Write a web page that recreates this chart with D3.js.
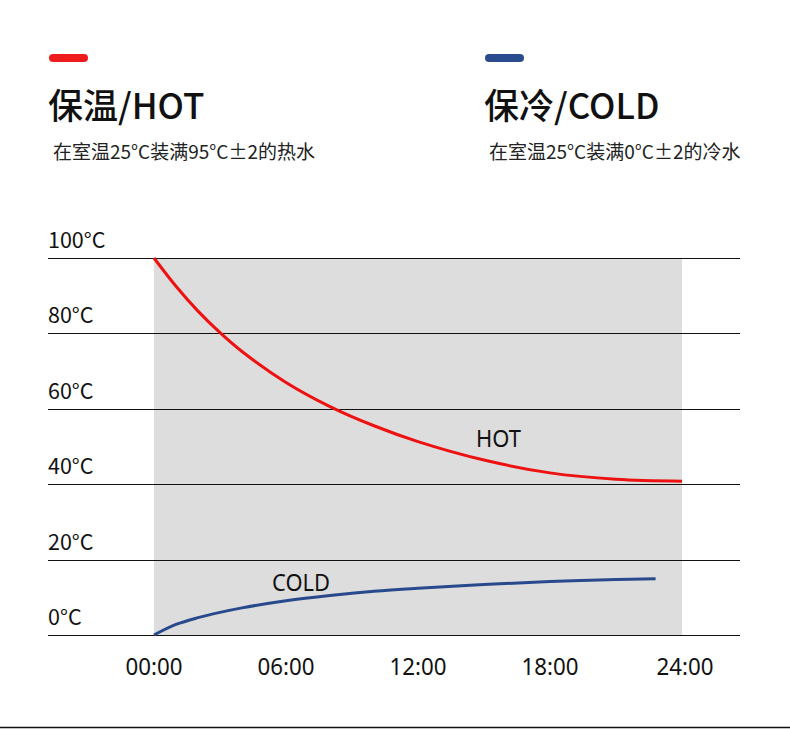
<!DOCTYPE html>
<html>
<head>
<meta charset="utf-8">
<script src="https://cdn.jsdelivr.net/npm/d3@7"></script>
<style>
  body { margin: 0; background: #fff; }
  svg { display: block; }
</style>
</head>
<body>
<script>
// time in hours, temperature in °C
var hotHours = [0, 1, 2, 3, 4, 6, 8, 10, 12, 15, 18, 21, 24];
var hotTemps = [100, 92.5, 85.9, 80.2, 75.2, 67, 60.6, 55.5, 51.3, 46.4, 43.0, 41.3, 40.8];

var coldHours = [0, 1, 2, 3, 4, 6, 8, 10, 12, 15, 18, 21, 22.8];
var coldTemps = [0, 2.8, 4.6, 6.0, 7.2, 9.1, 10.5, 11.6, 12.4, 13.4, 14.2, 14.7, 14.9];

var yTicks = [0, 20, 40, 60, 80, 100];
var xTicks = [0, 6, 12, 18, 24];
var xTickLabels = ["00:00", "06:00", "12:00", "18:00", "24:00"];

var width = 790, height = 729;
var cjk = "'Noto Sans CJK SC', 'Noto Sans', sans-serif";

var svg = d3.select("body").append("svg")
    .attr("width", width)
    .attr("height", height);

var x = d3.scaleLinear().domain([0, 24]).range([154, 682]);
var y = d3.scaleLinear().domain([0, 100]).range([635, 258]);

// header blocks
var headers = [
    {x: 49, color: "#ee1c1c", title: "保温/HOT", sub: "在室温25°C装满95°C±2的热水"},
    {x: 485, color: "#2a4c8e", title: "保冷/COLD", sub: "在室温25°C装满0°C±2的冷水"}
];
headers.forEach(function(h) {
    svg.append("rect")
        .attr("x", h.x).attr("y", 54)
        .attr("width", 39).attr("height", 8)
        .attr("rx", 4)
        .attr("fill", h.color);
    svg.append("text")
        .attr("x", h.x - 1).attr("y", 119)
        .style("font-family", cjk)
        .style("font-size", "35px")
        .style("font-weight", 500)
        .attr("fill", "#111")
        .text(h.title);
    svg.append("text")
        .attr("x", h.x + 4).attr("y", 159)
        .style("font-family", cjk)
        .style("font-size", "19px")
        .attr("fill", "#222")
        .text(h.sub);
});

// gray background band
svg.append("rect")
    .attr("x", x(0)).attr("y", y(100))
    .attr("width", x(24) - x(0))
    .attr("height", y(0) - y(100))
    .attr("fill", "#dddddd");

// gridlines + y labels
var grid = svg.append("g");
grid.selectAll("line")
    .data(yTicks)
    .enter().append("line")
    .attr("x1", 48).attr("x2", 740)
    .attr("y1", d => Math.round(y(d)) + 0.5).attr("y2", d => Math.round(y(d)) + 0.5)
    .attr("stroke", "#111")
    .attr("stroke-width", 1.2);

grid.selectAll("text")
    .data(yTicks)
    .enter().append("text")
    .attr("x", 48)
    .attr("y", d => y(d) - 10)
    .style("font-family", cjk)
    .style("font-size", "21.5px")
    .attr("fill", "#111")
    .text(d => d + "°C");

// x labels
svg.append("g").selectAll("text")
    .data(xTicks)
    .enter().append("text")
    .attr("x", (d, i) => x(d) + (i === 4 ? 3 : 0) - 28.5)
    .attr("y", 675)
    .attr("textLength", 57)
    .attr("lengthAdjust", "spacingAndGlyphs")
    .style("font-family", "'Noto Sans', sans-serif")
    .style("font-size", "23px")
    .attr("fill", "#111")
    .text((d, i) => xTickLabels[i]);

var line = d3.line()
    .x(d => x(d[0]))
    .y(d => y(d[1]))
    .curve(d3.curveCatmullRom.alpha(0.5));

svg.append("path")
    .datum(hotHours.map((h, i) => [h, hotTemps[i]]))
    .attr("d", line)
    .attr("fill", "none")
    .attr("stroke", "#ee1111")
    .attr("stroke-width", 3);

svg.append("path")
    .datum(coldHours.map((h, i) => [h, coldTemps[i]]))
    .attr("d", line)
    .attr("fill", "none")
    .attr("stroke", "#284a8c")
    .attr("stroke-width", 3);

// curve labels
svg.append("text")
    .attr("x", 476).attr("y", 446.5)
    .attr("textLength", 45)
    .attr("lengthAdjust", "spacingAndGlyphs")
    .style("font-family", "'Noto Sans', sans-serif")
    .style("font-size", "23px")
    .attr("fill", "#111")
    .text("HOT");

svg.append("text")
    .attr("x", 272).attr("y", 590.5)
    .attr("textLength", 58)
    .attr("lengthAdjust", "spacingAndGlyphs")
    .style("font-family", "'Noto Sans', sans-serif")
    .style("font-size", "23px")
    .attr("fill", "#111")
    .text("COLD");

// bottom rule
svg.append("line")
    .attr("x1", 0).attr("x2", width)
    .attr("y1", 727.5).attr("y2", 727.5)
    .attr("stroke", "#111")
    .attr("stroke-width", 1.5);
</script>
</body>
</html>
